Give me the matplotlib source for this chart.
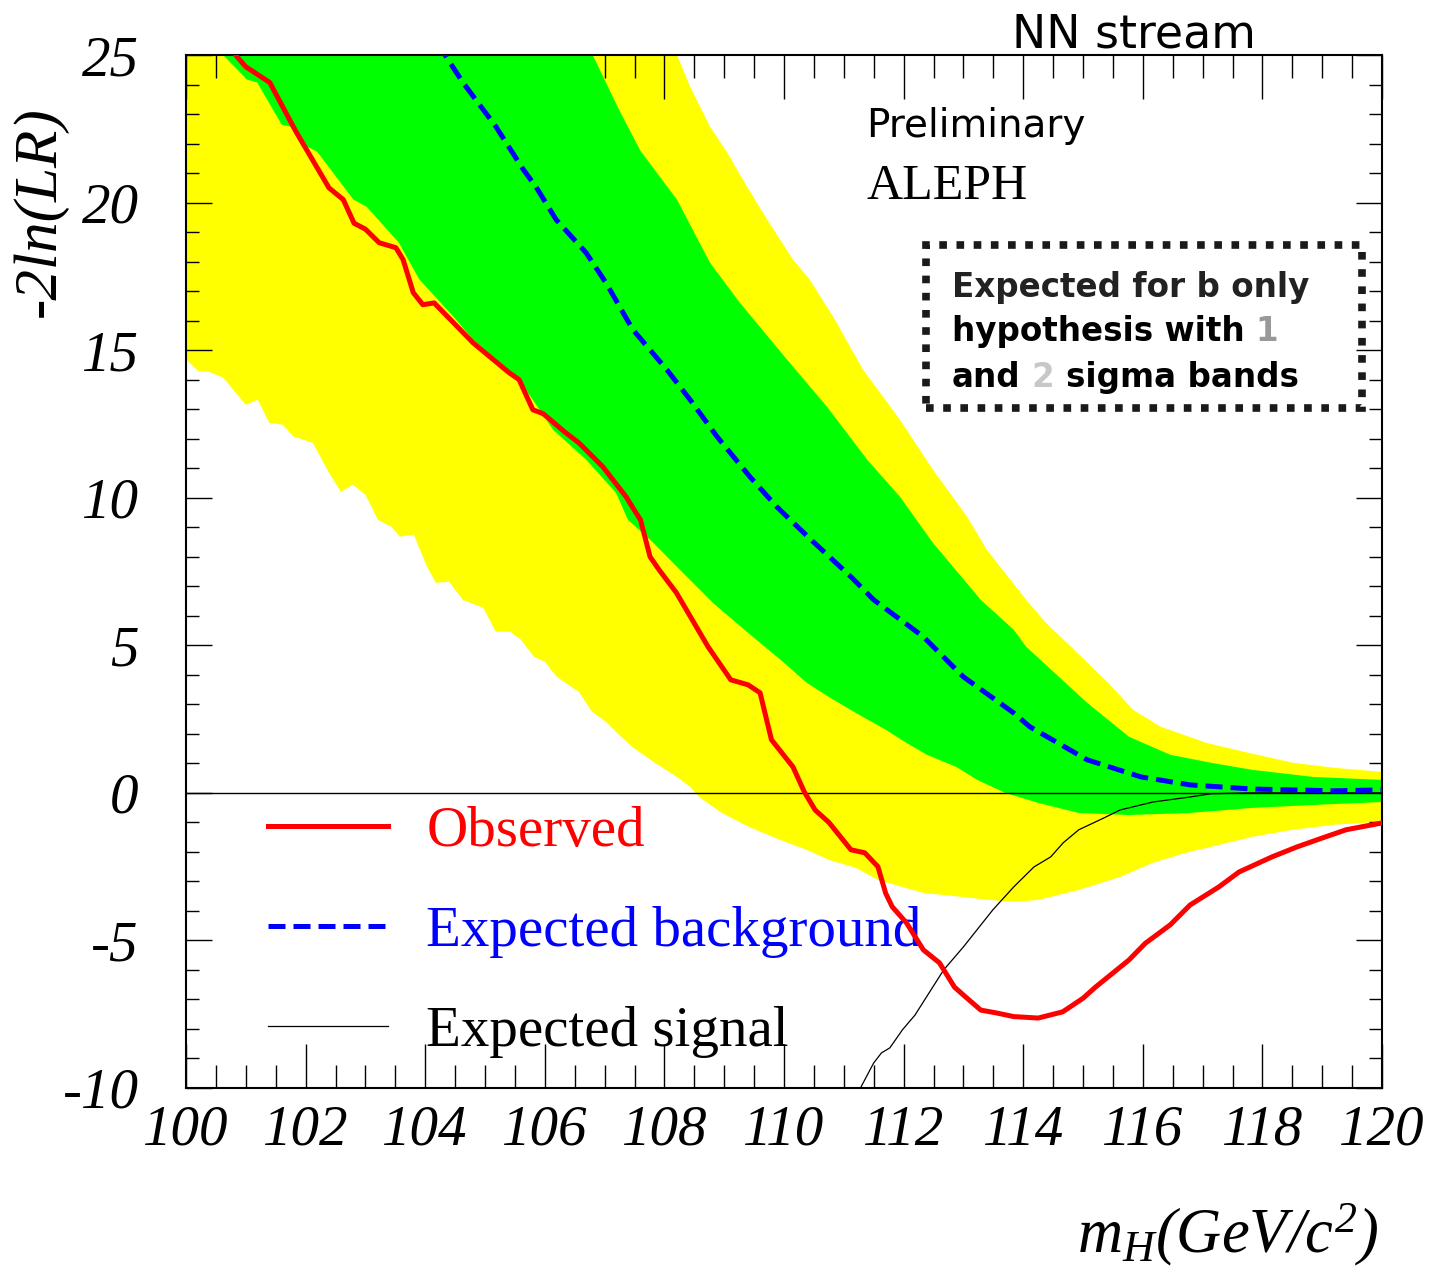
import numpy as np
import matplotlib
matplotlib.use("Agg")
import matplotlib.pyplot as plt
from matplotlib.patches import Rectangle
from matplotlib.ticker import MultipleLocator

plt.rcParams['mathtext.fontset'] = 'custom'
plt.rcParams['mathtext.it'] = 'Liberation Serif:italic'
plt.rcParams['mathtext.rm'] = 'Liberation Serif:italic'
plt.rcParams['axes.unicode_minus'] = False

# Observed -2ln(LR)
obs_m = [100.7, 100.85, 101.0, 101.4, 101.84, 102.39, 102.63, 102.81, 103.0, 103.23, 103.51, 103.63,
         103.8, 103.96, 104.15, 104.8, 105.4, 105.57, 105.8, 105.97, 106.35, 106.57, 106.97, 107.36,
         107.46, 107.6, 107.76, 107.91, 108.2, 108.73, 109.11, 109.4, 109.6, 109.79, 110.15, 110.34,
         110.52, 110.75, 111.12, 111.35, 111.57, 111.7, 111.81, 112.05, 112.33, 112.6, 112.85, 113.0,
         113.29, 113.56, 113.84, 114.25, 114.66, 115.0, 115.21, 115.77, 116.04, 116.46, 116.79, 117.27,
         117.61, 118.16, 118.58, 119.0, 119.4, 120.0]
obs_v = [25.4, 24.95, 24.6, 24.07, 22.4, 20.5, 20.1, 19.3, 19.1, 18.64, 18.47, 18.07,
         16.95, 16.54, 16.6, 15.25, 14.24, 14.0, 12.98, 12.85, 12.2, 11.86, 11.05, 10.03,
         9.7, 9.25, 8.0, 7.56, 6.78, 4.95, 3.83, 3.66, 3.39, 1.8, 0.88, 0.03,
         -0.58, -1.0, -1.93, -2.03, -2.5, -3.4, -3.86, -4.41, -5.32, -5.76, -6.58, -6.85,
         -7.36, -7.46, -7.58, -7.63, -7.42, -6.96, -6.58, -5.66, -5.1, -4.47, -3.8, -3.19,
         -2.68, -2.17, -1.83, -1.53, -1.25, -1.02]

# Expected background (median)
bkg_m = [104.2, 104.3, 104.63, 105.18, 105.64, 105.85, 106.19, 106.69, 107.02, 107.47, 108.04, 108.43,
         108.88, 109.43, 109.88, 110.45, 111.12, 111.5, 112.33, 113.0, 113.84, 114.11, 115.07, 115.97,
         116.79, 117.83, 119.2, 120.0]
bkg_v = [25.4, 25.1, 24.07, 22.58, 21.12, 20.54, 19.42, 18.3, 17.29, 15.7, 14.34, 13.32,
         12.07, 10.71, 9.69, 8.58, 7.32, 6.54, 5.29, 3.93, 2.71, 2.24, 1.12, 0.54,
         0.27, 0.13, 0.07, 0.1]

# Expected signal
sig_m = [111.2, 111.5, 111.63, 111.77, 111.98, 112.19, 112.67, 113.0, 113.49, 113.84, 114.18, 114.46,
         114.67, 114.93, 115.35, 115.62, 116.17, 116.79, 117.14, 117.83, 120.0]
sig_v = [-10.3, -9.15, -8.81, -8.64, -8.03, -7.53, -6.0, -5.22, -3.97, -3.19, -2.51, -2.17,
         -1.69, -1.25, -0.85, -0.58, -0.31, -0.14, -0.03, 0.0, 0.0]

# 1 sigma band edges
g_up_m = [106.3, 106.8, 107.24, 107.6, 108.21, 108.76, 109.26, 110.05, 110.72, 111.39, 111.94, 112.49,
          113.29, 113.84, 114.05, 115.07, 115.77, 116.46, 117.14, 117.83, 118.85, 120.0]
g_up_v = [26.5, 25.0, 23.15, 21.75, 20.1, 17.97, 16.61, 14.68, 13.08, 11.29, 10.03, 8.47,
          6.54, 5.53, 4.95, 3.05, 1.9, 1.29, 1.02, 0.78, 0.54, 0.44]
g_lo_m = [100.4, 100.62, 101.02, 101.19, 101.6, 101.74, 102.02, 102.19, 102.8, 103.02, 103.56, 103.9,
          104.47, 104.8, 105.25, 105.57, 106.14, 106.69, 107.19, 107.39, 107.76, 108.21, 108.81, 109.4,
          110.0, 110.38, 110.75, 111.2, 111.7, 112.05, 112.39, 112.88, 113.23, 113.7, 114.25, 114.93,
          115.77, 116.79, 117.83, 118.85, 120.0]
g_lo_v = [25.6, 25.0, 24.17, 24.07, 22.64, 22.58, 21.9, 21.73, 20.1, 19.86, 18.64, 17.4,
          16.14, 15.36, 14.58, 14.0, 12.3, 11.29, 10.17, 9.25, 8.58, 7.66, 6.44, 5.42,
          4.41, 3.73, 3.25, 2.71, 2.14, 1.69, 1.29, 0.88, 0.44, 0.0, -0.34, -0.68,
          -0.75, -0.68, -0.51, -0.41, -0.31]

# 2 sigma band edges
y_up_m = [100.0, 104.0, 107.5, 108.21, 108.43, 108.76, 109.05, 109.38, 109.72, 110.15, 110.43, 110.82,
          111.32, 111.94, 112.49, 113.06, 113.39, 114.05, 114.38, 114.8, 115.42, 115.84, 116.3, 117.07,
          117.76, 118.51, 119.2, 120.0]
y_up_v = [30.0, 28.5, 26.5, 25.0, 23.93, 22.58, 21.7, 20.54, 19.42, 18.07, 17.39, 16.14,
          14.34, 12.64, 10.95, 9.36, 8.24, 6.54, 5.76, 4.95, 3.73, 2.81, 2.24, 1.69,
          1.36, 1.02, 0.85, 0.71]
y_lo_m = [100.0, 100.22, 100.38, 100.62, 101.0, 101.2, 101.39, 101.62, 101.8, 102.12, 102.39, 102.59,
          102.79, 103.0, 103.21, 103.43, 103.58, 103.81, 104.03, 104.18, 104.4, 104.63, 104.97, 105.18,
          105.42, 105.6, 105.82, 106.0, 106.2, 106.57, 106.79, 107.02, 107.24, 107.46, 107.84, 108.21,
          108.43, 108.58, 108.96, 109.41, 109.93, 110.38, 110.75, 111.2, 111.57, 112.33, 113.0, 113.43,
          113.84, 114.25, 114.93, 115.62, 116.17, 116.72, 117.14, 117.83, 118.51, 119.2, 120.0]
y_lo_v = [14.68, 14.27, 14.27, 14.07, 13.15, 13.32, 12.54, 12.47, 12.07, 11.86, 10.85, 10.2,
          10.44, 10.1, 9.25, 9.02, 8.68, 8.75, 7.66, 7.12, 7.15, 6.54, 6.27, 5.46,
          5.46, 5.19, 4.61, 4.44, 3.93, 3.42, 2.75, 2.41, 1.97, 1.56, 1.02, 0.54,
          0.2, -0.14, -0.68, -1.15, -1.59, -1.93, -2.27, -2.54, -2.95, -3.39, -3.53, -3.63,
          -3.69, -3.63, -3.29, -2.85, -2.37, -2.03, -1.83, -1.49, -1.25, -1.08, -0.98]

W, H = 1444, 1287
fig = plt.figure(figsize=(W / 100, H / 100), dpi=100)
ax = fig.add_axes([186 / W, 1 - 1088 / H, 1196 / W, 1033 / H])

# bands
ax.fill(np.concatenate([y_up_m, y_lo_m[::-1]]), np.concatenate([y_up_v, y_lo_v[::-1]]),
        color='#ffff00', lw=0, zorder=1)
ax.fill(np.concatenate([g_up_m, g_lo_m[::-1]]), np.concatenate([g_up_v, g_lo_v[::-1]]),
        color='#00ff00', lw=0, zorder=2)
ax.axhline(0, color='black', lw=1.0, zorder=3)

l_sig, = ax.plot(sig_m, sig_v, color='black', lw=0.9, zorder=4, label='Expected signal')
l_bkg, = ax.plot(bkg_m, bkg_v, color='blue', lw=3.6, ls=(0, (3.4, 1.6)), zorder=5,
                 label='Expected background')
l_obs, = ax.plot(obs_m, obs_v, color='red', lw=3.6, zorder=6, label='Observed')

ax.set_xlim(100, 120)
ax.set_ylim(-10, 25)
for s in ax.spines.values():
    s.set_linewidth(1.5)

ax.xaxis.set_major_locator(MultipleLocator(2))
ax.xaxis.set_minor_locator(MultipleLocator(0.5))
ax.yaxis.set_major_locator(MultipleLocator(5))
ax.yaxis.set_minor_locator(MultipleLocator(1))
ax.tick_params(axis='x', which='major', direction='in', top=True, length=32, width=1.0, pad=12,
               labelsize=41)
ax.tick_params(axis='x', which='minor', direction='in', top=True, length=16.5, width=1.0)
ax.tick_params(axis='y', which='major', direction='in', right=True, length=19, width=1.0, pad=34,
               labelsize=41)
ax.tick_params(axis='y', which='minor', direction='in', right=True, length=9.5, width=1.0)
for lab in ax.get_xticklabels() + ax.get_yticklabels():
    lab.set_family('Liberation Serif')
    lab.set_style('italic')

ax.set_ylabel('-2ln(LR)', family='Liberation Serif', style='italic', fontsize=44,
              ha='center', va='center')
ax.yaxis.set_label_coords(-0.122, 0.848)
ax.set_xlabel(r'$m_{H}(GeV/c^{2})$', fontsize=45, va='center')
ax.xaxis.set_label_coords(0.871, -0.142)

leg = ax.legend(handles=[l_obs, l_bkg, l_sig], loc='upper left', bbox_to_anchor=(0.0686, 0.273),
                frameon=False, prop={'family': 'Liberation Serif', 'size': 41},
                handlelength=2.1, handletextpad=0.68, labelspacing=0.84, borderpad=0,
                borderaxespad=0, labelcolor=['red', 'blue', 'black'])

# annotations
fig.text(1012 / W, 1 - 48 / H, 'NN stream', family='DejaVu Sans', fontsize=33, va='baseline')
fig.text(866 / W, 1 - 137 / H, 'Preliminary', family='DejaVu Sans', fontsize=28, va='baseline')
fig.text(866 / W, 1 - 199 / H, 'ALEPH', family='Liberation Serif', fontsize=36, va='baseline')

box = Rectangle((926 / W, 1 - 408 / H), (1362 - 926) / W, (408 - 245) / H, transform=fig.transFigure,
                fill=False, ec='#1a1a1a', lw=5.5, ls=(0, (1, 1.25)), capstyle='butt')
fig.patches.append(box)

fig.text(952 / W, 1 - 297 / H, 'Expected for b only', family='DejaVu Sans', weight='bold',
         fontsize=23.5, color='#222222', va='baseline')
t2 = fig.text(952 / W, 1 - 341 / H, 'hypothesis with', family='DejaVu Sans', weight='bold',
              fontsize=23.5, color='black', va='baseline')
t3 = fig.text(952 / W, 1 - 387 / H, 'and', family='DejaVu Sans', weight='bold',
              fontsize=23.5, color='black', va='baseline')
fig.canvas.draw()
a1 = ax.annotate('1', xy=(1, 0), xycoords=t2, xytext=(8, 0), textcoords='offset points',
                 family='DejaVu Sans', weight='bold', fontsize=23.5, color='#999999', va='bottom')
a2 = ax.annotate('2', xy=(1, 0), xycoords=t3, xytext=(8, 0), textcoords='offset points',
                 family='DejaVu Sans', weight='bold', fontsize=23.5, color='#c8c8c8', va='bottom')
ax.annotate('sigma bands', xy=(1, 0), xycoords=a2, xytext=(8, 0), textcoords='offset points',
            family='DejaVu Sans', weight='bold', fontsize=23.5, color='black', va='bottom')

fig.savefig('out.png', dpi=100)
